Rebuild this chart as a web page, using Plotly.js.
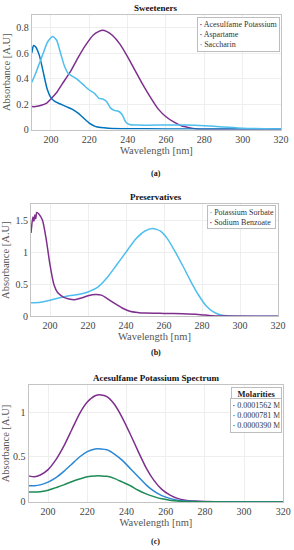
<!DOCTYPE html>
<html><head><meta charset="utf-8">
<script src="https://cdn.plot.ly/plotly-3.0.1.min.js"></script>
<style>html,body{margin:0;padding:0;background:#fff;}#c{width:294px;height:550px;}</style>
</head><body><div id="c"></div>
<script>
// Panel (a) Sweeteners
const wlAce = [190,192,195,198,200,203,206,210,214,218,222,225,227,229,232,236,240,244,248,252,256,260,264,268,272,276,280,290,300,320];
const absAce = [0.18,0.18,0.19,0.21,0.24,0.29,0.36,0.45,0.56,0.66,0.74,0.77,0.78,0.77,0.74,0.67,0.57,0.46,0.35,0.25,0.16,0.10,0.06,0.03,0.015,0.005,0.0,0.0,0.0,0.0];
const wlAsp = [190,190.5,191,192,194,196,198,200,202,205,208,211,214,217,220,223,226,230,240,260,280,300,320];
const absAsp = [0.60,0.64,0.66,0.65,0.58,0.45,0.32,0.25,0.22,0.20,0.18,0.16,0.13,0.09,0.05,0.025,0.015,0.01,0.006,0.005,0.005,0.005,0.005];
const wlSac = [190,192,194,196,198,200,201,203,205,207,209,211,214,217,220,223,225,227,229,231,233,235,237,239,241,245,260,270,280,290,300,320];
const absSac = [0.37,0.44,0.52,0.60,0.68,0.72,0.73,0.70,0.60,0.50,0.44,0.42,0.39,0.35,0.31,0.28,0.245,0.24,0.22,0.17,0.15,0.145,0.12,0.06,0.04,0.035,0.035,0.035,0.03,0.02,0.01,0.005];
// Panel (b) Preservatives
const wlSorb = [190,195,200,205,210,215,220,225,230,235,240,245,250,254,258,262,266,270,274,278,282,286,290,295,300,320];
const absSorb = [0.21,0.22,0.25,0.29,0.32,0.34,0.38,0.45,0.60,0.80,1.00,1.20,1.33,1.37,1.33,1.20,1.00,0.78,0.55,0.34,0.17,0.07,0.02,0.005,0.0,0.0];
const wlBenz = [190,190.5,191,191.5,192,192.5,193,194,196,198,200,202,204,207,210,213,216,220,224,227,230,234,238,242,246,250,260,270,278,285,290,320];
const absBenz = [1.30,1.45,1.55,1.48,1.58,1.52,1.62,1.60,1.50,1.20,0.80,0.50,0.37,0.30,0.27,0.26,0.28,0.32,0.34,0.33,0.28,0.20,0.13,0.08,0.06,0.05,0.045,0.04,0.03,0.01,0.005,0.0];
// Panel (c) Acesulfame Potassium Spectrum
const wlMol = [190,193,196,200,204,208,212,216,220,224,227,230,234,238,242,246,250,254,258,262,266,270,275,280,290,320];
const absM1 = [0.29,0.28,0.30,0.36,0.47,0.62,0.80,0.98,1.11,1.18,1.19,1.17,1.08,0.93,0.75,0.56,0.38,0.24,0.14,0.08,0.04,0.02,0.01,0.005,0.002,0.0];
const absM2 = [0.18,0.18,0.19,0.22,0.27,0.34,0.42,0.50,0.56,0.59,0.59,0.58,0.53,0.46,0.37,0.28,0.19,0.12,0.07,0.04,0.02,0.01,0.005,0.003,0.001,0.0];
const absM3 = [0.11,0.11,0.115,0.13,0.16,0.19,0.225,0.255,0.28,0.29,0.29,0.285,0.26,0.22,0.18,0.13,0.09,0.06,0.035,0.02,0.01,0.005,0.003,0.002,0.001,0.0];
const namesA = ['Acesulfame Potassium','Aspartame','Saccharin'];
const namesB = ['Potassium Sorbate','Sodium Benzoate'];
const namesC = ['0.0001562 M','0.0000781 M','0.0000390 M'];
const legendTitleC = 'Molarities';

const PURPLE='#7E2F8E', BLUE='#0072BD', LBLUE='#4DBEEE', MBLUE='#2B87D6', GREEN='#1E8A55';
const colorsA=[PURPLE,BLUE,LBLUE], colorsB=[LBLUE,PURPLE], colorsC=[PURPLE,MBLUE,GREEN];
const FONT="Liberation Serif, serif";
function tr(x,y,name,color,xa,ya){return {x:x,y:y,name:name,type:'scatter',mode:'lines',line:{color:color,width:1.5,shape:'spline',smoothing:0.6},xaxis:xa,yaxis:ya,showlegend:false};}
const data=[
 tr(wlAce,absAce,namesA[0],colorsA[0],'x','y'),
 tr(wlAsp,absAsp,namesA[1],colorsA[1],'x','y'),
 tr(wlSac,absSac,namesA[2],colorsA[2],'x','y'),
 tr(wlSorb,absSorb,namesB[0],colorsB[0],'x2','y2'),
 tr(wlBenz,absBenz,namesB[1],colorsB[1],'x2','y2'),
 tr(wlMol,absM1,namesC[0],colorsC[0],'x3','y3'),
 tr(wlMol,absM2,namesC[1],colorsC[1],'x3','y3'),
 tr(wlMol,absM3,namesC[2],colorsC[2],'x3','y3')
];
function xax(dom,anchor){return {domain:dom,anchor:anchor,range:[190,320],dtick:20,tick0:200,showgrid:true,gridcolor:'#eeeeee',zeroline:false,showline:true,mirror:true,linecolor:'#c4c4c4',linewidth:1,ticks:'',tickfont:{family:FONT,size:10,color:'#444'},title:{text:'Wavelength [nm]',font:{family:FONT,size:10.5,color:'#555'},standoff:2}};}
function yax(dom,anchor,range,dtick){return {domain:dom,anchor:anchor,range:range,dtick:dtick,showgrid:true,gridcolor:'#eeeeee',zeroline:false,showline:true,mirror:true,linecolor:'#c4c4c4',linewidth:1,ticks:'',tickfont:{family:FONT,size:10,color:'#444'},title:{text:'Absorbance [A.U]',font:{family:FONT,size:10.5,color:'#555'},standoff:3}};}
function legText(names,colors){return names.map((n,i)=>'<span style="color:'+colors[i]+'"><b>·</b></span> '+n).join('<br>');}
function legAnn(names,colors,x,y,w){const a={text:legText(names,colors),x:x,y:y,xref:'paper',yref:'paper',xanchor:'right',yanchor:'top',align:'left',showarrow:false,bgcolor:'#fff',bordercolor:'#bdbdbd',borderwidth:1,borderpad:1.5,font:{family:FONT,size:8,color:'#333'}};if(w)a.width=w;return a;}
function ann(text,x,y,size,bold){return {text:bold?'<b>'+text+'</b>':text,x:x,y:y,xref:'paper',yref:'paper',showarrow:false,xanchor:'center',yanchor:'middle',font:{family:FONT,size:size,color:'#111'}};}
const layout={
 width:294,height:550,margin:{l:0,r:0,t:0,b:0},paper_bgcolor:'#fff',plot_bgcolor:'#fff',showlegend:false,
 xaxis:xax([0.108,0.956],'y'), yaxis:yax([0.7645,0.973],'x',[0,0.9],0.2),
 xaxis2:xax([0.1055,0.9456],'y2'), yaxis2:yax([0.4249,0.629],'x2',[0,1.75],0.5),
 xaxis3:xax([0.097,0.9636],'y3'), yaxis3:yax([0.0873,0.3],'x3',[0,1.3],0.5),
 annotations:[
  ann('Sweeteners',0.53,0.985,9,true),
  ann('(a)',0.53,0.685,8,true),
  ann('Preservatives',0.53,0.642,9,true),
  ann('(b)',0.53,0.36,8,true),
  ann('Acesulfame Potassium Spectrum',0.53,0.313,9,true),
  ann('(c)',0.53,0.015,8,true),
  legAnn(namesA,colorsA,0.953,0.969),
  legAnn(namesB,colorsB,0.939,0.627),
  {text:'<b>'+legendTitleC+'</b>',x:0.959,y:0.2964,xref:'paper',yref:'paper',xanchor:'right',yanchor:'top',align:'center',showarrow:false,bgcolor:'#fff',bordercolor:'#bdbdbd',borderwidth:1,borderpad:1,width:47,font:{family:FONT,size:8.5,color:'#222'}},
  legAnn(namesC,colorsC,0.959,0.2769,47)
 ]
};
Plotly.newPlot('c',data,layout,{staticPlot:true,displayModeBar:false});
</script></body></html>
